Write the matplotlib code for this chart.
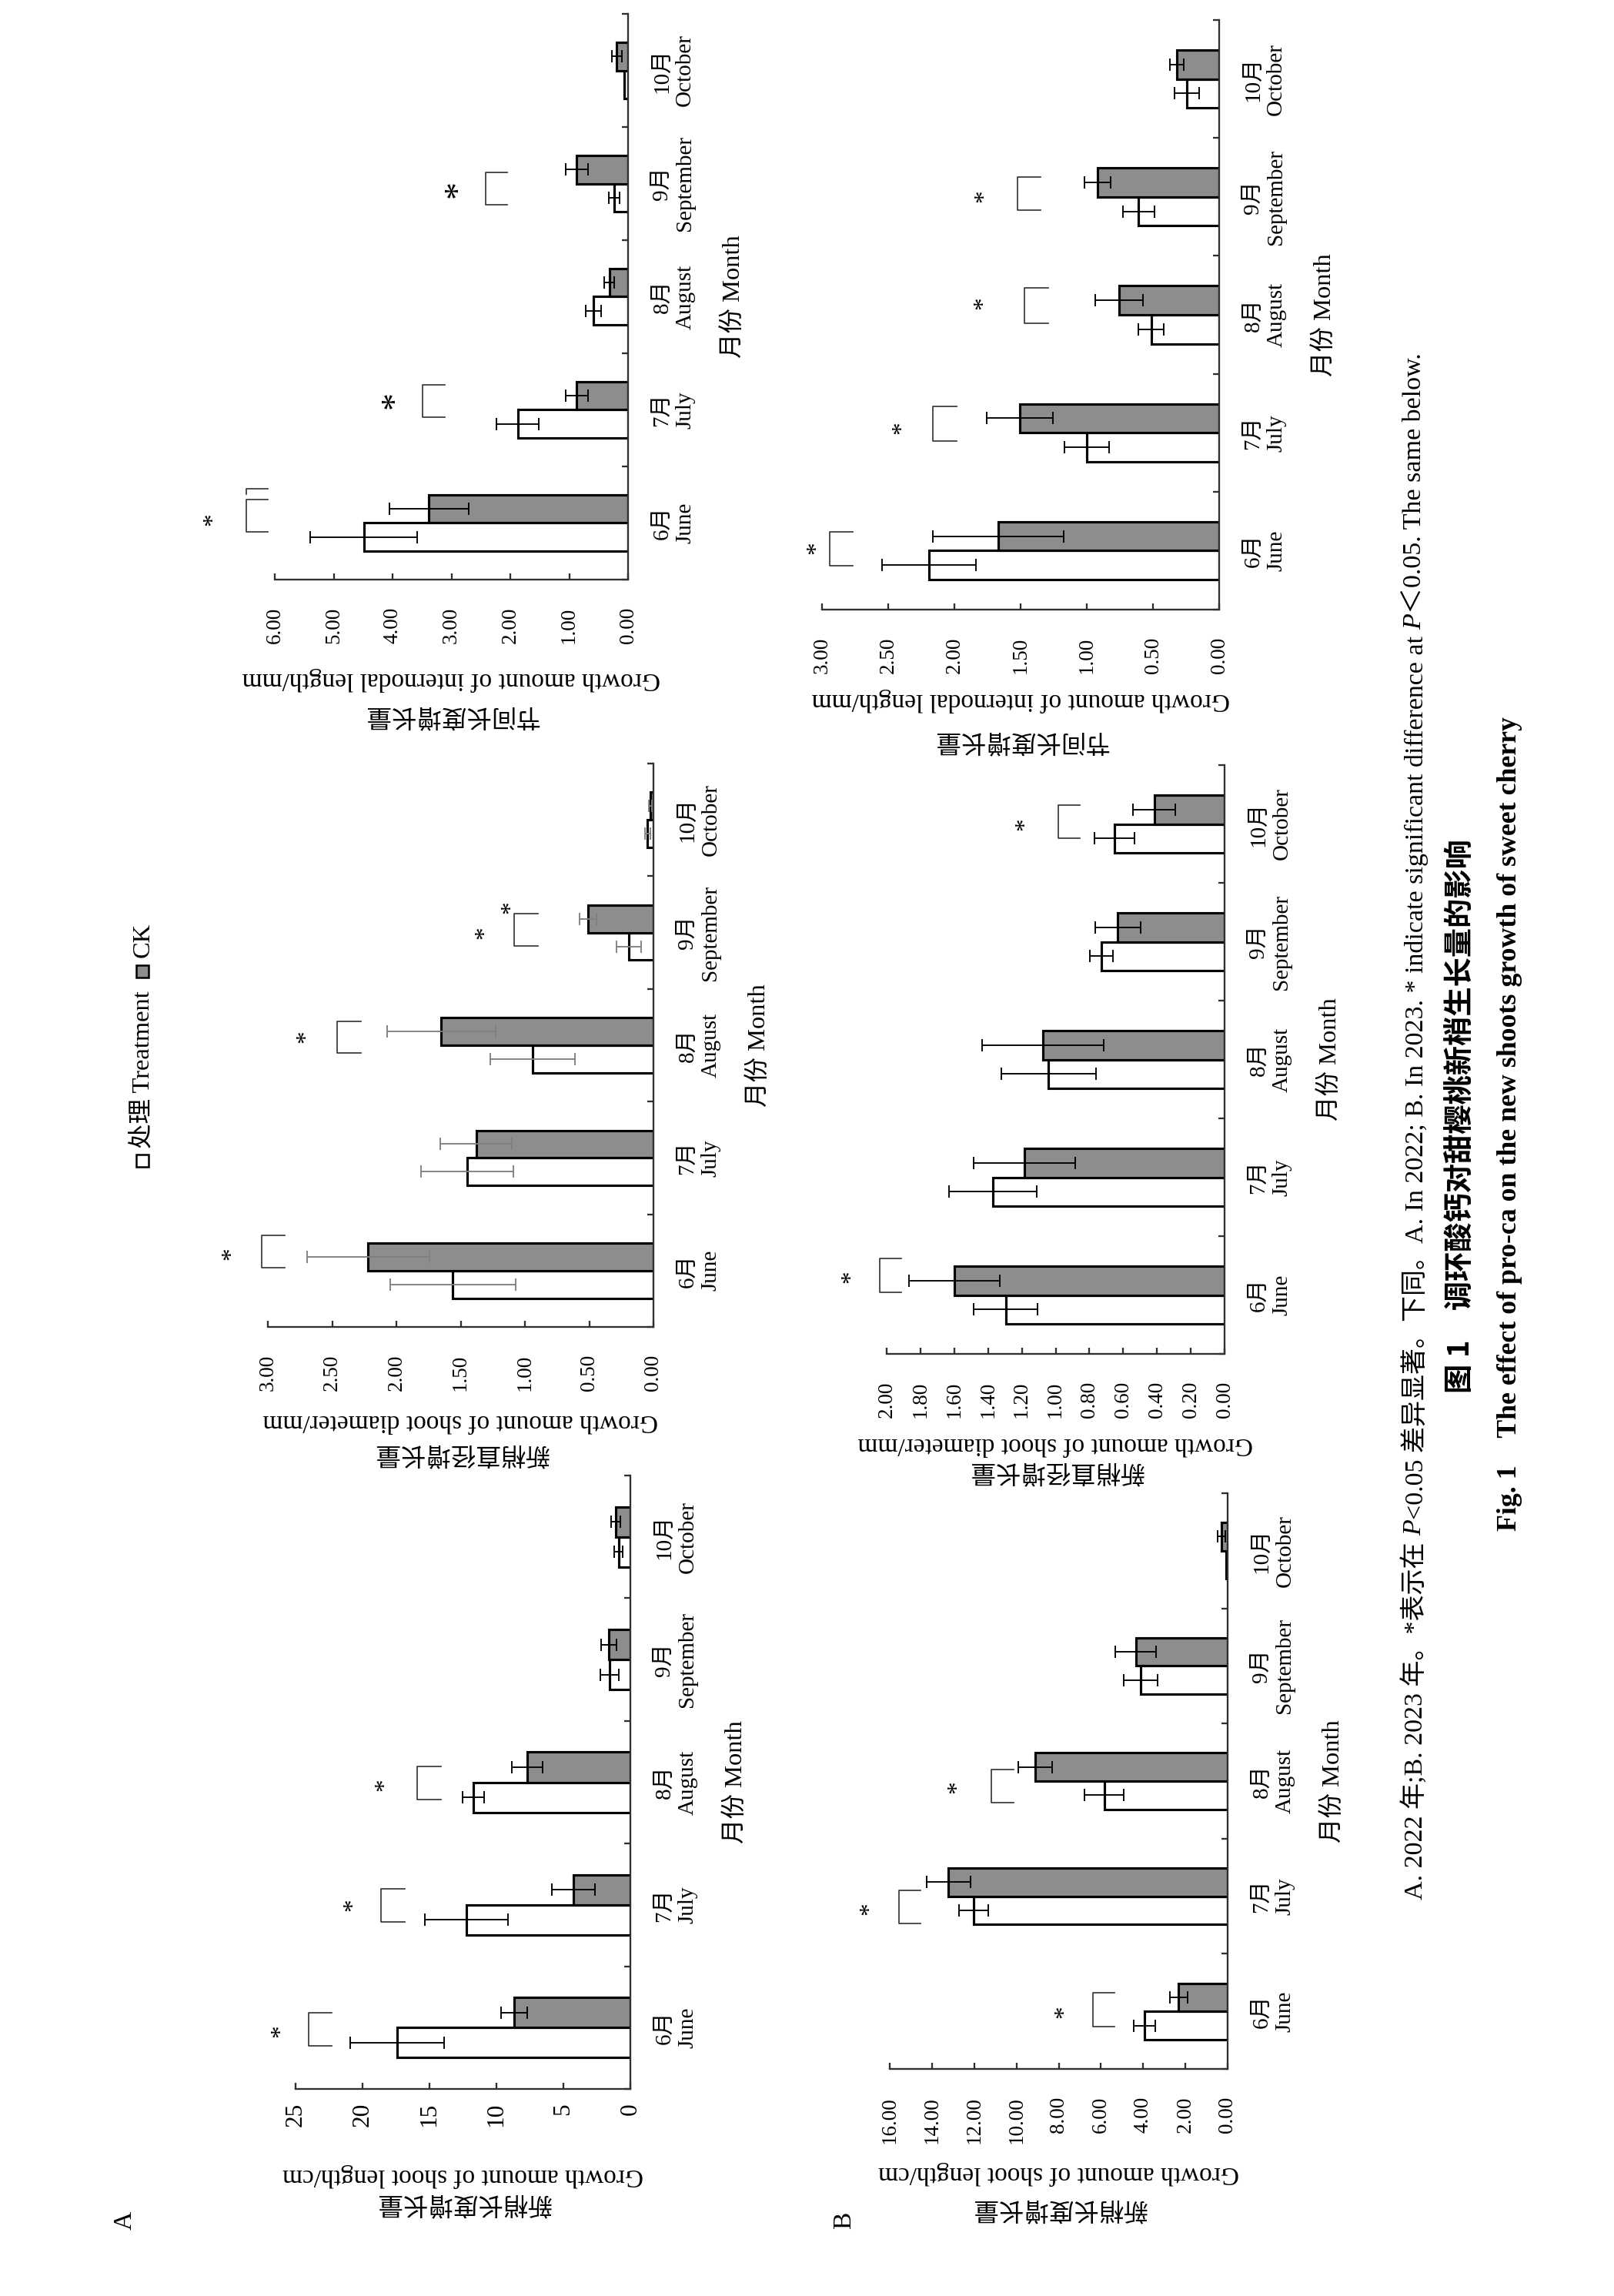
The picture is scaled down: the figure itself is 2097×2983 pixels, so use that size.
import numpy as np
import matplotlib
matplotlib.use('Agg')
import matplotlib.pyplot as plt
from matplotlib.patches import Rectangle
from matplotlib.ticker import FormatStrFormatter, NullFormatter

W, H, DPI = 2097, 2983, 300
PT = 72 / DPI  # points per pixel
SERIF = ['Liberation Serif', 'Noto Sans CJK SC']
CJK = ['Noto Sans CJK SC', 'Liberation Serif']
plt.rcParams['font.family'] = SERIF

months_cn = ['6月', '7月', '8月', '9月', '10月']
months_en = ['June', 'July', 'August', 'September', 'October']

# A: 2022
a_len_trt = [17.4, 12.24, 11.73, 1.57, 0.88]
a_len_trt_err = [3.5, 3.1, 0.82, 0.7, 0.31]
a_len_ck = [8.66, 4.25, 7.68, 1.62, 1.08]
a_len_ck_err = [0.98, 1.6, 1.15, 0.57, 0.34]

a_dia_trt = [1.56, 1.45, 0.94, 0.19, 0.045]
a_dia_trt_err = [0.49, 0.36, 0.33, 0.095, 0.02]
a_dia_ck = [2.22, 1.38, 1.65, 0.51, 0.024]
a_dia_ck_err = [0.475, 0.28, 0.42, 0.067, 0.01]

a_int_trt = [4.49, 1.87, 0.59, 0.235, 0.06]
a_int_trt_err = [0.91, 0.36, 0.135, 0.088, 0.0]
a_int_ck = [3.38, 0.87, 0.32, 0.87, 0.19]
a_int_ck_err = [0.67, 0.185, 0.088, 0.19, 0.08]

# B: 2023
b_len_trt = [3.93, 12.03, 5.84, 4.12, 0.08]
b_len_trt_err = [0.5, 0.7, 0.93, 0.79, 0.0]
b_len_ck = [2.32, 13.22, 9.12, 4.35, 0.28]
b_len_ck_err = [0.41, 1.03, 0.8, 0.97, 0.18]

b_dia_trt = [1.295, 1.373, 1.042, 0.729, 0.652]
b_dia_trt_err = [0.19, 0.26, 0.28, 0.07, 0.12]
b_dia_ck = [1.60, 1.183, 1.077, 0.631, 0.415]
b_dia_ck_err = [0.27, 0.30, 0.36, 0.135, 0.125]

b_int_trt = [2.19, 1.0, 0.514, 0.608, 0.243]
b_int_trt_err = [0.355, 0.17, 0.095, 0.117, 0.094]
b_int_ck = [1.67, 1.508, 0.757, 0.918, 0.318]
b_int_ck_err = [0.495, 0.25, 0.18, 0.1, 0.052]

# significance marks: month, bracket top, bracket leg end, upper/lower leg offset, star value, star offset
a_len_sig = [(0, 24.05, 22.3, 0.124, -0.146, 26.1, -0.03),
             (1, 18.63, 16.83, 0.13, -0.14, 20.7, 0.0),
             (2, 15.93, 14.12, 0.13, -0.14, 18.3, -0.02)]
a_dia_sig = [(0, 3.05, 2.866, 0.315, 0.025, 3.28, 0.15),
             (2, 2.459, 2.274, 0.21, -0.066, 2.698, 0.08),
             (3, 1.082, 0.9, 0.17, -0.12, 1.31, 0.0)]
a_int_sig = [(0, 6.49, 6.12, 0.21, -0.08, 7.04, 0.03),
             (1, 3.49, 3.11, 0.22, -0.066, 3.94, 0.087),
             (3, 2.42, 2.05, 0.097, -0.188, 2.87, -0.048)]
b_len_sig = [(0, 6.38, 5.37, 0.16, -0.13, 7.74, 0.0),
             (1, 15.58, 14.53, 0.05, -0.235, 16.94, -0.11),
             (2, 11.19, 10.15, 0.1, -0.19, 12.77, -0.05)]
b_dia_sig = [(0, 2.043, 1.914, 0.31, 0.02, 2.21, 0.155),
             (4, 0.985, 0.856, 0.16, -0.12, 1.179, 0.0)]
b_int_sig = [(0, 2.943, 2.765, 0.16, -0.13, 3.04, 0.024),
             (1, 2.16, 1.983, 0.22, -0.07, 2.395, 0.04),
             (2, 1.469, 1.291, 0.23, -0.07, 1.78, 0.1),
             (3, 1.526, 1.349, 0.17, -0.115, 1.774, 0.01)]

lab_len = ('新梢长度增长量', 'Growth amount of shoot length/cm')
lab_dia = ('新梢直径增长量', 'Growth amount of shoot diameter/mm')
lab_int = ('节间长度增长量', 'Growth amount of internodal length/mm')

CK_GRAY = '#8d8d8d'
AX_COL = '#303030'

panels = [
    dict(rect=(384, 1917, 819, 2714), trt=a_len_trt, trt_err=a_len_trt_err, ck=a_len_ck, ck_err=a_len_ck_err,
         xmax=25, ticks=np.linspace(0, 25, 6), fmt='%d', tsize=7.5, xpad=18, ecol='black',
         lab=lab_len, off=(113, 148), sig=a_len_sig, star=8),
    dict(rect=(348, 992, 849, 1724), trt=a_dia_trt, trt_err=a_dia_trt_err, ck=a_dia_ck, ck_err=a_dia_ck_err,
         xmax=3, ticks=np.linspace(0, 3, 7), fmt='%.2f', tsize=6.5, xpad=36, ecol='#808080',
         lab=lab_dia, off=(122, 164), sig=a_dia_sig, star=8),
    dict(rect=(357, 18, 816, 753), trt=a_int_trt, trt_err=a_int_trt_err, ck=a_int_ck, ck_err=a_int_ck_err,
         xmax=6, ticks=np.linspace(0, 6, 7), fmt='%.2f', tsize=6.5, xpad=36, ecol='black',
         lab=lab_int, off=(130, 176), sig=a_int_sig, star=11),
    dict(rect=(1156, 1940, 1595, 2688), trt=b_len_trt, trt_err=b_len_trt_err, ck=b_len_ck, ck_err=b_len_ck_err,
         xmax=16, ticks=np.linspace(0, 16, 9), fmt='%.2f', tsize=6.5, xpad=36, ecol='black',
         lab=lab_len, off=(136, 181), sig=b_len_sig, star=8),
    dict(rect=(1152, 994, 1591, 1759), trt=b_dia_trt, trt_err=b_dia_trt_err, ck=b_dia_ck, ck_err=b_dia_ck_err,
         xmax=2, ticks=np.linspace(0, 2, 11), fmt='%.2f', tsize=6.5, xpad=36, ecol='black',
         lab=lab_dia, off=(117, 152), sig=b_dia_sig, star=8),
    dict(rect=(1068, 26, 1584, 792), trt=b_int_trt, trt_err=b_int_trt_err, ck=b_int_ck, ck_err=b_int_ck_err,
         xmax=3, ticks=np.linspace(0, 3, 7), fmt='%.2f', tsize=6.5, xpad=36, ecol='black',
         lab=lab_int, off=(118, 170), sig=b_int_sig, star=8),
]

fig = plt.figure(figsize=(W / DPI, H / DPI), dpi=DPI)


def px_rect(l, t, r, b):
    return [l / W, 1 - b / H, (r - l) / W, (b - t) / H]


def fx(px):
    return px / W


def fy(py):
    return 1 - py / H


axes = []
for p in panels:
    ax = fig.add_axes(px_rect(*p['rect']))
    axes.append(ax)
    y = np.arange(len(months_en))
    h = 0.245
    ax.barh(y - h / 2, p['trt'], height=h, color='white', edgecolor='black', linewidth=0.75, zorder=2)
    ax.barh(y + h / 2, p['ck'], height=h, color=CK_GRAY, edgecolor='black', linewidth=0.75, zorder=2)
    ax.errorbar(p['trt'], y - h / 2, xerr=p['trt_err'], fmt='none', ecolor=p['ecol'],
                elinewidth=0.45, capsize=2.0, capthick=0.45, zorder=3)
    ax.errorbar(p['ck'], y + h / 2, xerr=p['ck_err'], fmt='none', ecolor=p['ecol'],
                elinewidth=0.45, capsize=2.0, capthick=0.45, zorder=3)

    ax.set_xlim(p['xmax'], 0)
    ax.set_ylim(-0.5, 4.5)
    for side in ('top', 'left'):
        ax.spines[side].set_visible(False)
    for side in ('right', 'bottom'):
        ax.spines[side].set_color(AX_COL)
        ax.spines[side].set_linewidth(0.55)

    ax.set_xticks(p['ticks'])
    ax.xaxis.set_major_formatter(FormatStrFormatter(p['fmt']))
    ax.tick_params(axis='x', direction='in', length=1.9, width=0.55, color=AX_COL,
                   labelsize=p['tsize'], labelrotation=90, pad=p['xpad'] * PT)

    ax.yaxis.tick_right()
    ax.set_yticks(np.arange(-0.5, 5.0, 1.0))
    ax.yaxis.set_major_formatter(NullFormatter())
    ax.set_yticks(y, minor=True)
    ax.set_yticklabels([f'{c}\n{e}' for c, e in zip(months_cn, months_en)], minor=True)
    ax.tick_params(axis='y', which='major', direction='in', length=1.9, width=0.55, color=AX_COL)
    ax.tick_params(axis='y', which='minor', length=0, pad=7.5, labelsize=7, labelrotation=90)
    for lab in ax.get_yticklabels(minor=True):
        lab.set_va('center')
        lab.set_multialignment('center')

    # value axis title (two lines, upside down)
    ax.annotate(p['lab'][1], xy=(0.5, 0), xycoords='axes fraction',
                xytext=(0, -p['off'][0] * PT), textcoords='offset points',
                rotation=180, ha='center', va='center', fontsize=8, annotation_clip=False)
    ax.annotate(p['lab'][0], xy=(0.5, 0), xycoords='axes fraction',
                xytext=(0, -p['off'][1] * PT), textcoords='offset points',
                rotation=180, ha='center', va='center', fontsize=7.8, family=CJK,
                annotation_clip=False)
    # month axis title
    ax.annotate('月份 Month', xy=(1, 0.5), xycoords='axes fraction',
                xytext=(137 * PT, 0), textcoords='offset points',
                rotation=90, ha='center', va='center', fontsize=7.8, annotation_clip=False)

    for i, (m, top, leg, up, dn, sv, sdy) in enumerate(p['sig']):
        ax.plot([leg, top, top, leg], [m + up, m + up, m + dn, m + dn], color=AX_COL,
                lw=0.4, clip_on=False, zorder=4)
        size = 8 if (p['star'] > 8 and i == 0) else p['star']
        ax.text(sv, m + sdy, '*', rotation=90, ha='center', va='center', fontsize=size,
                clip_on=False)

# extras seen in the figure: second star over September (A diameter) and hook over June (A internode)
axes[1].text(1.11, 3.226, '*', rotation=90, ha='center', va='center', fontsize=8, clip_on=False)
axes[2].plot([6.12, 6.49, 6.49], [0.30, 0.30, 0.255], color=AX_COL, lw=0.4, clip_on=False)

# legend (rotated like the page)
for (y0, face) in [(1500, 'white'), (1254, CK_GRAY)]:
    fig.add_artist(Rectangle((fx(177), fy(y0 + 16)), 16 / W, 16 / H, transform=fig.transFigure,
                             facecolor=face, edgecolor='black', linewidth=0.6))
fig.text(fx(186), fy(1390), '处理 Treatment', rotation=90, ha='center', va='center', fontsize=7.8)
fig.text(fx(186), fy(1221), 'CK', rotation=90, ha='center', va='center', fontsize=7.8)

fig.text(fx(162), fy(2885), 'A', rotation=90, ha='center', va='center', fontsize=8)
fig.text(fx(1097), fy(2885), 'B', rotation=90, ha='center', va='center', fontsize=8)

# caption line 1, with italic P, laid out piece by piece along the rotated line
cap1_parts = [('A. 2022 年;B. 2023 年。*表示在 ', 'normal'), ('P', 'italic'),
              ('<0.05 差异显著。下同。A. In 2022; B. In 2023. * indicate significant difference at ', 'normal'),
              ('P', 'italic'), ('＜0.05. The same below.', 'normal')]
cap2 = '图 1　调环酸钙对甜樱桃新梢生长量的影响'
cap3 = 'Fig. 1　The effect of pro-ca on the new shoots growth of sweet cherry'

renderer = fig.canvas.get_renderer()
base = 7.4
pieces = [fig.text(0, 0, s, rotation=90, ha='center', va='bottom', fontsize=base, style=st)
          for s, st in cap1_parts]
total = sum(t.get_window_extent(renderer).height for t in pieces)
size = base * 2011 / total
for t in pieces:
    t.set_fontsize(size)
total = sum(t.get_window_extent(renderer).height for t in pieces)
ypos = (H - 1463) - total / 2   # display coords, pixels from bottom
for t in pieces:
    t.set_position((fx(1838), ypos / H))
    ypos += t.get_window_extent(renderer).height

fig.text(fx(1898), fy(1450), cap2, rotation=90, ha='center', va='center', fontsize=9.2,
         family=CJK, weight='bold')
fig.text(fx(1962), fy(1460), cap3, rotation=90, ha='center', va='center', fontsize=8.6,
         weight='bold')

fig.savefig('out.png', dpi=DPI, facecolor='white')
